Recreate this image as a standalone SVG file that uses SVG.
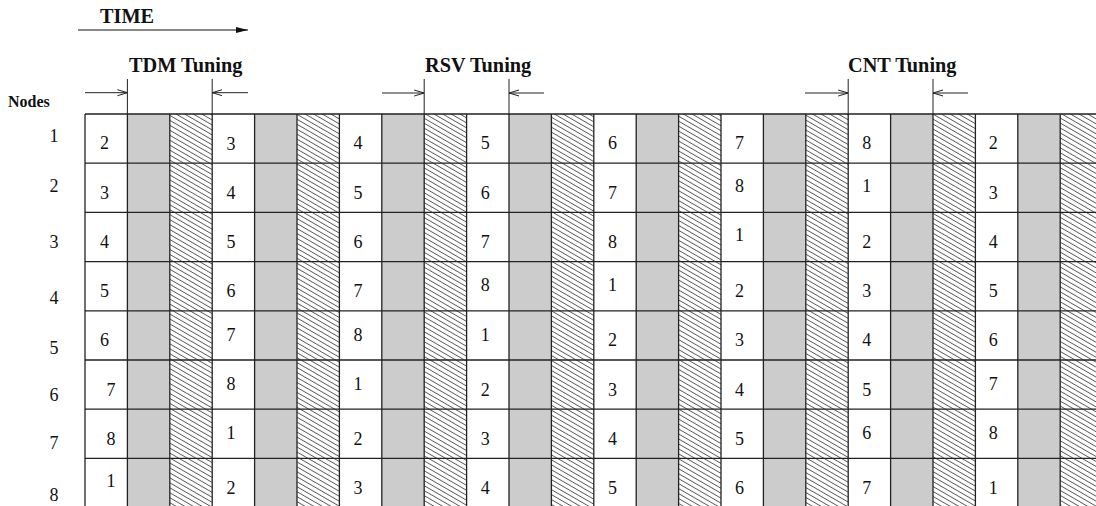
<svg xmlns="http://www.w3.org/2000/svg" width="1096" height="506" viewBox="0 0 1096 506">
<style>
.t{font-family:"Liberation Serif","Times New Roman",serif;fill:#111}
.b{font-weight:bold;font-size:20.3px}
.n{font-size:18px;text-anchor:middle}
.g{fill:#cccccc}
.gl{stroke:#222;stroke-width:1.3;fill:none}
.ar{stroke:#222;stroke-width:1;fill:none}
</style>
<defs>
<pattern id="hatch" patternUnits="userSpaceOnUse" width="10" height="4.3" patternTransform="rotate(30)">
<rect width="10" height="4.3" fill="#fff"/>
<line x1="0" y1="2.1" x2="10" y2="2.1" stroke="#333" stroke-width="0.8"/>
</pattern>
<marker id="open" viewBox="0 0 10 8" refX="10" refY="4" markerWidth="10" markerHeight="8" markerUnits="userSpaceOnUse" orient="auto">
<path d="M0,1 L10,4 L0,7" fill="none" stroke="#222" stroke-width="1"/>
</marker>
<marker id="solid" viewBox="0 0 12 8" refX="12" refY="4" markerWidth="12" markerHeight="8" markerUnits="userSpaceOnUse" orient="auto">
<path d="M0,1 L12,4 L0,7 Z" fill="#111"/>
</marker>
</defs>
<rect width="1096" height="506" fill="#fff"/>

<g id="header">
<text class="t b" x="100" y="23">TIME</text>
<line x1="78" y1="30" x2="248" y2="30" stroke="#111" stroke-width="1.2" marker-end="url(#solid)"/>
<text class="t" x="8" y="107" font-weight="bold" font-size="16">Nodes</text>
</g>

<g id="tdm-tuning">
<text class="t b" x="129" y="72">TDM Tuning</text>
</g>
<g id="rsv-tuning">
<text class="t b" x="425" y="72">RSV Tuning</text>
</g>
<g id="cnt-tuning">
<text class="t b" x="848" y="72">CNT Tuning</text>
</g>

<g id="columns">
<rect class="g" x="127.4" y="114" width="42.4" height="392"/>
<rect fill="url(#hatch)" x="169.8" y="114" width="42.4" height="392"/>
<rect class="g" x="254.6" y="114" width="42.4" height="392"/>
<rect fill="url(#hatch)" x="297" y="114" width="42.4" height="392"/>
<rect class="g" x="381.8" y="114" width="42.4" height="392"/>
<rect fill="url(#hatch)" x="424.2" y="114" width="42.4" height="392"/>
<rect class="g" x="509" y="114" width="42.4" height="392"/>
<rect fill="url(#hatch)" x="551.4" y="114" width="42.4" height="392"/>
<rect class="g" x="636.2" y="114" width="42.4" height="392"/>
<rect fill="url(#hatch)" x="678.6" y="114" width="42.4" height="392"/>
<rect class="g" x="763.4" y="114" width="42.4" height="392"/>
<rect fill="url(#hatch)" x="805.8" y="114" width="42.4" height="392"/>
<rect class="g" x="890.6" y="114" width="42.4" height="392"/>
<rect fill="url(#hatch)" x="933" y="114" width="42.4" height="392"/>
<rect class="g" x="1017.8" y="114" width="42.4" height="392"/>
<rect fill="url(#hatch)" x="1060.2" y="114" width="42.4" height="392"/>
</g>

<g id="grid" class="gl">
<path d="M85,114H1096M85,163.2H1096M85,212.4H1096M85,261.6H1096M85,310.8H1096M85,360H1096M85,409.2H1096M85,458.4H1096"/>
<path d="M85,114V506M127.4,114V506M169.8,114V506M212.2,114V506M254.6,114V506M297,114V506M339.4,114V506M381.8,114V506M424.2,114V506M466.6,114V506M509,114V506M551.4,114V506M593.8,114V506M636.2,114V506M678.6,114V506M721,114V506M763.4,114V506M805.8,114V506M848.2,114V506M890.6,114V506M933,114V506M975.4,114V506M1017.8,114V506M1060.2,114V506"/>
</g>

<g id="connectors" class="ar">
<path d="M127.4,79V114M212.2,79V114M424.2,79V114M509,79V114M848.2,79V114M933,79V114"/>
<line x1="85" y1="92.7" x2="127.4" y2="92.7" marker-end="url(#open)"/>
<line x1="248" y1="92.7" x2="212.2" y2="92.7" marker-end="url(#open)"/>
<line x1="382" y1="93" x2="424.2" y2="93" marker-end="url(#open)"/>
<line x1="544" y1="93" x2="509" y2="93" marker-end="url(#open)"/>
<line x1="805" y1="93" x2="848.2" y2="93" marker-end="url(#open)"/>
<line x1="968" y1="93" x2="933" y2="93" marker-end="url(#open)"/>
</g>

<g id="row-labels" class="t n">
<text x="54" y="142.3">1</text>
<text x="54" y="192.3">2</text>
<text x="54" y="248">3</text>
<text x="54" y="304">4</text>
<text x="54" y="354">5</text>
<text x="54" y="400.7">6</text>
<text x="54" y="449">7</text>
<text x="54" y="501">8</text>
</g>

<g id="slot-numbers" class="t n">
<text x="104.5" y="149">2</text>
<text x="104.5" y="199">3</text>
<text x="104.5" y="248">4</text>
<text x="104.5" y="297">5</text>
<text x="104.5" y="346">6</text>
<text x="111" y="395.7">7</text>
<text x="111" y="445">8</text>
<text x="111" y="486.7">1</text>

<text x="231" y="149.7">3</text>
<text x="231" y="199">4</text>
<text x="231" y="248">5</text>
<text x="231" y="297">6</text>
<text x="231" y="340.7">7</text>
<text x="231" y="390">8</text>
<text x="231" y="439">1</text>
<text x="231" y="494">2</text>

<text x="358" y="149">4</text>
<text x="358" y="199">5</text>
<text x="358" y="248">6</text>
<text x="358" y="297">7</text>
<text x="358" y="340.7">8</text>
<text x="358" y="390">1</text>
<text x="358" y="445">2</text>
<text x="358" y="494">3</text>

<text x="485.3" y="149">5</text>
<text x="485.3" y="199">6</text>
<text x="485.3" y="248">7</text>
<text x="485.3" y="290.7">8</text>
<text x="485.3" y="340.7">1</text>
<text x="485.3" y="395.7">2</text>
<text x="485.3" y="445">3</text>
<text x="485.3" y="494">4</text>

<text x="612.5" y="149">6</text>
<text x="612.5" y="199">7</text>
<text x="612.5" y="248">8</text>
<text x="612.5" y="290.7">1</text>
<text x="612.5" y="346">2</text>
<text x="612.5" y="395.7">3</text>
<text x="612.5" y="445">4</text>
<text x="612.5" y="494">5</text>

<text x="739.5" y="149">7</text>
<text x="739.5" y="192.3">8</text>
<text x="739.5" y="241.3">1</text>
<text x="739.5" y="297">2</text>
<text x="739.5" y="346">3</text>
<text x="739.5" y="395.7">4</text>
<text x="739.5" y="445">5</text>
<text x="739.5" y="494">6</text>

<text x="866.7" y="149">8</text>
<text x="866.7" y="192.3">1</text>
<text x="866.7" y="248">2</text>
<text x="866.7" y="297">3</text>
<text x="866.7" y="346">4</text>
<text x="866.7" y="395.7">5</text>
<text x="866.7" y="439">6</text>
<text x="866.7" y="494">7</text>

<text x="993.3" y="149">2</text>
<text x="993.3" y="199">3</text>
<text x="993.3" y="248">4</text>
<text x="993.3" y="297">5</text>
<text x="993.3" y="346">6</text>
<text x="993.3" y="390">7</text>
<text x="993.3" y="439">8</text>
<text x="993.3" y="494">1</text>
</g>
</svg>
